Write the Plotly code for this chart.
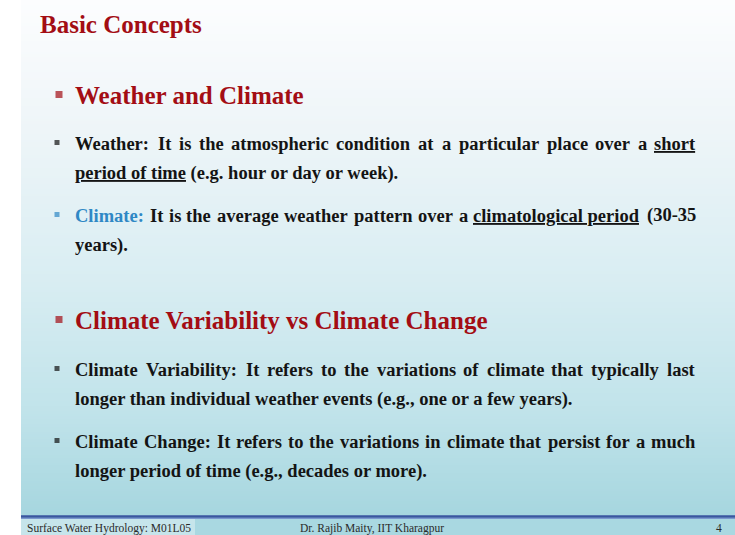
import re
import numpy as np
import plotly.graph_objects as go

# ---------------- content ----------------
TITLE = "Basic Concepts"
HEADINGS = ["Weather and Climate", "Climate Variability vs Climate Change"]
# [..] = underlined phrase, {..} = blue phrase
SECTION1 = [
    ("Weather: It is the atmospheric condition at a particular place over a [short]", True, "k"),
    ("[period of time] (e.g. hour or day or week).", False, None),
    ("{Climate:} It is the average weather pattern over a [climatological period] (30-35", True, "b"),
    ("years).", False, None),
]
SECTION2 = [
    ("Climate Variability: It refers to the variations of climate that typically last", True, "k"),
    ("longer than individual weather events (e.g., one or a few years).", False, None),
    ("Climate Change: It refers to the variations in climate that persist for a much", True, "k"),
    ("longer period of time (e.g., decades or more).", False, None),
]
FOOTER_LEFT = "Surface Water Hydrology: M01L05"
FOOTER_CENTER = "Dr. Rajib Maity, IIT Kharagpur"
PAGE_NO = "4"

# ---------------- styling / layout ----------------
W, H = 735, 535
FONT = "Liberation Serif"
RED = "#a30d14"
BLUE = "#2f88c5"
INK = "#141414"
BODY_FS = 18.5
HEAD_FS = 25
LEFT, RIGHT = 75, 695.5
TITLE_BASE = 32.5
HEAD_BASE = [104, 329]
BODY_BASE = [[150, 180, 222, 252], [376, 406, 448, 478]]
SLIDE_X0 = 21
LINE_Y = 517
WIDTH_SCALE = 1.008

# Times/Liberation Serif Bold advance widths (1/1000 em)
_W = {' ': 250, '(': 333, ')': 333, ',': 250, '-': 333, '.': 250, ':': 333}
_W.update({c: 500 for c in '0123456789'})
_W.update(dict(zip('abcdefghijklmnopqrstuvwxyz',
                   [500, 556, 444, 556, 444, 333, 500, 556, 278, 333, 556, 278, 833,
                    556, 500, 556, 556, 444, 389, 333, 556, 500, 722, 500, 500, 444])))
_W.update(dict(zip('ABCDEFGHIJKLMNOPQRSTUVWXYZ',
                   [722, 667, 722, 722, 667, 611, 778, 778, 389, 500, 778, 667, 944,
                    722, 778, 611, 778, 722, 556, 667, 722, 722, 1000, 722, 722, 667])))


def text_width(s, size):
    return sum(_W.get(c, 500) for c in s) / 1000.0 * size * WIDTH_SCALE


def plain(tok):
    return tok.strip('[]{}')


def markup(tok):
    if tok.startswith('['):
        return '<u>' + tok[1:-1] + '</u>'
    if tok.startswith('{'):
        return '<span style="color:%s">%s</span>' % (BLUE, tok[1:-1])
    return tok


def tokens(line):
    return re.findall(r"\[[^\]]+\]|\{[^}]+\}|\S+", line)


def center_y(base, size):
    return base - 0.3375 * size


fig = go.Figure()

# slide background gradient (white top -> light blue bottom)
ys = np.linspace(0, LINE_Y, 201)
fig.add_trace(go.Heatmap(
    x=[SLIDE_X0, W], y=ys, z=((ys[:-1] + ys[1:]) / 2)[:, None],
    colorscale=[[0, '#fcfdfe'], [0.25, '#eef5f8'], [0.55, '#d8edf2'],
                [0.8, '#c0e3ea'], [1, '#a6d6df']],
    showscale=False, hoverinfo='skip'))

shapes = [
    dict(type='rect', x0=SLIDE_X0, x1=W, y0=LINE_Y, y1=H, fillcolor='#a9d8e1', line_width=0, layer='below'),
    dict(type='rect', x0=SLIDE_X0, x1=195, y0=LINE_Y + 2, y1=H, fillcolor='#c6e5eb', line_width=0, layer='below'),
    dict(type='line', x0=SLIDE_X0, x1=W, y0=LINE_Y - 0.5, y1=LINE_Y - 0.5, line=dict(color='#3a56a0', width=2.5)),
    dict(type='line', x0=SLIDE_X0, x1=W, y0=LINE_Y + 1.5, y1=LINE_Y + 1.5, line=dict(color='#7b97cf', width=1)),
]

ann = []


def add_text(x, y, txt, size, color, anchor='left', weight='bold', family=FONT):
    ann.append(dict(x=x, y=y, xref='x', yref='y', text=txt, showarrow=False,
                    xanchor=anchor, yanchor='middle', borderpad=0, borderwidth=0,
                    font=dict(family=family, size=size, color=color, weight=weight)))


add_text(40, center_y(TITLE_BASE, HEAD_FS), TITLE, HEAD_FS, RED)

bx, by, bc, bs = [], [], [], []
for si, (heading, lines) in enumerate(zip(HEADINGS, [SECTION1, SECTION2])):
    hb = HEAD_BASE[si]
    add_text(LEFT, center_y(hb, HEAD_FS), heading, HEAD_FS, RED)
    bx.append(59); by.append(hb - 9.5); bc.append(RED); bs.append(7)
    for (line, justify, bullet), base in zip(lines, BODY_BASE[si]):
        yc = center_y(base, BODY_FS)
        toks = tokens(line)
        if bullet:
            bx.append(57); by.append(base - 7.5)
            bc.append(BLUE if bullet == 'b' else '#111111'); bs.append(5)
        if not justify:
            add_text(LEFT, yc, ' '.join(markup(t) for t in toks), BODY_FS, INK)
            continue
        widths = [text_width(plain(t), BODY_FS) for t in toks]
        n = len(toks)
        gap = (RIGHT - LEFT - sum(widths)) / (n - 1)
        x = LEFT
        for i, (t, w) in enumerate(zip(toks, widths)):
            # left half anchored from the left edge, right half from the right edge
            if i < n / 2:
                add_text(x, yc, markup(t), BODY_FS, INK, anchor='left')
            else:
                add_text(x + w, yc, markup(t), BODY_FS, INK, anchor='right')
            x += w + gap

fig.add_trace(go.Scatter(x=bx, y=by, mode='markers', hoverinfo='skip',
                         marker=dict(symbol='square', size=bs, color=bc, line_width=0)))

# footer
add_text(27, 528, FOOTER_LEFT, 11.5, '#2a2a2a', weight='normal')
add_text(372, 528, FOOTER_CENTER, 11.5, '#2a2a2a', anchor='center', weight='normal')
add_text(719, 528, PAGE_NO, 11.5, '#2a2a2a', anchor='center', weight='normal')

fig.update_layout(
    width=W, height=H, margin=dict(l=0, r=0, t=0, b=0),
    paper_bgcolor='white', plot_bgcolor='white', showlegend=False,
    xaxis=dict(range=[0, W], visible=False, fixedrange=True),
    yaxis=dict(range=[H, 0], visible=False, fixedrange=True),
    shapes=shapes, annotations=ann)

fig.write_html("out.html", config={'displayModeBar': False},
               post_script="document.body.style.margin='0';document.body.style.overflow='hidden';")
